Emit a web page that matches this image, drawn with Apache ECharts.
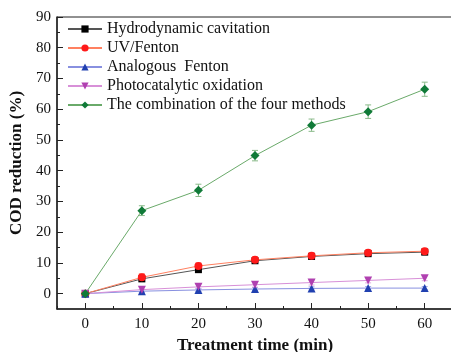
<!DOCTYPE html>
<html>
<head>
<meta charset="utf-8">
<script src="https://cdn.jsdelivr.net/npm/echarts@6/dist/echarts.min.js"></script>
<style>
  html, body { margin: 0; padding: 0; background: #fff; }
  #chart { width: 451px; height: 352px; }
</style>
</head>
<body>
<div id="chart"></div>
<script>
const times = [0, 10, 20, 30, 40, 50, 60];
const names = ['Hydrodynamic cavitation', 'UV/Fenton', 'Analogous  Fenton', 'Photocatalytic oxidation', 'The combination of the four methods'];
const hydro = [0, 4.8, 7.8, 10.7, 12.1, 13.0, 13.5];
const uvFenton = [0, 5.3, 9.0, 11.0, 12.3, 13.3, 13.8];
const analogous = [0, 0.8, 1.2, 1.5, 1.7, 1.8, 1.8];
const photo = [0, 1.3, 2.2, 2.9, 3.6, 4.3, 5.0];
const combo = [0, 27.0, 33.6, 44.9, 54.8, 59.2, 66.5];
const hydroErr = [0.3, 0.8, 0.8, 0.8, 0.8, 0.8, 0.8];
const uvErr = [0.3, 1.2, 1.0, 1.0, 1.0, 0.9, 0.9];
const analogousErr = [0.2, 0.5, 0.5, 0.5, 0.5, 0.5, 0.5];
const photoErr = [0.2, 0.8, 0.8, 0.8, 0.8, 0.8, 0.8];
const comboErr = [0.5, 1.6, 2.0, 1.7, 2.0, 2.2, 2.3];
const yTicks = [0, 10, 20, 30, 40, 50, 60, 70, 80, 90];
const yMinor = [5, 15, 25, 35, 45, 55, 65, 75, 85];
const xTicks = [0, 10, 20, 30, 40, 50, 60];
const xMinor = [-5, 5, 15, 25, 35, 45, 55, 65];

const serif = 'Liberation Serif, Times New Roman, serif';
const chart = echarts.init(document.getElementById('chart'));

// marker / line / error bar colours per series
const styles = [
  { values: hydro, err: hydroErr, symbol: 'rect', size: 7, mark: '#000000', line: '#555555', errColor: '#777777' },
  { values: uvFenton, err: uvErr, symbol: 'circle', size: 8, mark: '#ff1a1a', line: '#ff8060', errColor: '#ff9a8a' },
  { values: analogous, err: analogousErr, symbol: 'triangle', size: 8, mark: '#2040b0', line: '#8890e0', errColor: '#a0a8e8' },
  { values: photo, err: photoErr, symbol: 'path://M0,0 L10,0 L5,9 Z', size: 8, mark: '#b040b0', line: '#d890d8', errColor: '#e0a8e0' },
  { values: combo, err: comboErr, symbol: 'diamond', size: 9, mark: '#107a38', line: '#6aaa6a', errColor: '#8aba8a' }
];

const series = [];
styles.forEach(function (s, i) {
  series.push({
    name: names[i],
    type: 'line',
    xAxisIndex: 0, yAxisIndex: 0,
    data: times.map(function (t, j) { return [t, s.values[j]]; }),
    symbol: s.symbol,
    symbolSize: s.size,
    showAllSymbol: true,
    z: 3,
    lineStyle: { color: s.line, width: 1 },
    itemStyle: { color: s.mark },
    emphasis: { disabled: true }
  });
});
// error bars
styles.forEach(function (s, i) {
  series.push({
    name: 'err' + i,
    type: 'custom',
    xAxisIndex: 0, yAxisIndex: 0,
    silent: true,
    z: 1,
    data: times.map(function (t, j) { return [t, s.values[j], s.err[j]]; }),
    renderItem: function (params, api) {
      const x = api.value(0), y = api.value(1), e = api.value(2);
      const top = api.coord([x, y + e]);
      const bot = api.coord([x, y - e]);
      const c = s.errColor;
      return {
        type: 'group',
        children: [
          { type: 'line', shape: { x1: top[0], y1: top[1], x2: bot[0], y2: bot[1] }, style: { stroke: c, lineWidth: 1 } },
          { type: 'line', shape: { x1: top[0] - 3, y1: top[1], x2: top[0] + 3, y2: top[1] }, style: { stroke: c, lineWidth: 1 } },
          { type: 'line', shape: { x1: bot[0] - 3, y1: bot[1], x2: bot[0] + 3, y2: bot[1] }, style: { stroke: c, lineWidth: 1 } }
        ]
      };
    }
  });
});

const option = {
  animation: false,
  backgroundColor: '#ffffff',
  grid: { left: 57, top: 17, right: -2, bottom: 43, outerBoundsMode: 'none', containLabel: false, show: true, borderColor: '#222', borderWidth: 1 },
  legend: {
    left: 62, top: 16,
    orient: 'vertical',
    itemWidth: 34, itemHeight: 9, itemGap: 3,
    data: names,
    textStyle: { fontFamily: serif, fontSize: 16, color: '#111', lineHeight: 16 }
  },
  xAxis: [{
    type: 'value', min: -5, max: 65,
    name: 'Treatment time (min)', nameLocation: 'middle', nameGap: 28,
    nameTextStyle: { fontFamily: serif, fontSize: 17, fontWeight: 'bold', color: '#111' },
    axisLine: { show: true, onZero: false, lineStyle: { color: '#222', width: 1.5 } },
    axisTick: { show: true, inside: true, length: 6, customValues: xTicks, lineStyle: { color: '#222' } },
    axisLabel: { customValues: xTicks, fontFamily: serif, fontSize: 15, color: '#111', margin: 8 },
    splitLine: { show: false }
  }, {
    type: 'value', min: -5, max: 65, position: 'bottom',
    axisLine: { show: false, onZero: false },
    axisTick: { show: true, inside: true, length: 3, customValues: xMinor, lineStyle: { color: '#222' } },
    axisLabel: { show: false },
    splitLine: { show: false }
  }],
  yAxis: [{
    type: 'value', min: -5, max: 90,
    name: 'COD reduction (%)', nameLocation: 'middle', nameGap: 31,
    nameTextStyle: { fontFamily: serif, fontSize: 17, fontWeight: 'bold', color: '#111' },
    axisLine: { show: true, onZero: false, lineStyle: { color: '#222', width: 1.5 } },
    axisTick: { show: true, inside: true, length: 6, customValues: yTicks, lineStyle: { color: '#222' } },
    axisLabel: { customValues: yTicks, fontFamily: serif, fontSize: 15, color: '#111', margin: 6 },
    splitLine: { show: false }
  }, {
    type: 'value', min: -5, max: 90, position: 'left',
    axisLine: { show: false, onZero: false },
    axisTick: { show: true, inside: true, length: 3, customValues: yMinor, lineStyle: { color: '#222' } },
    axisLabel: { show: false },
    splitLine: { show: false }
  }],
  series: series
};
chart.setOption(option);
</script>
</body>
</html>
